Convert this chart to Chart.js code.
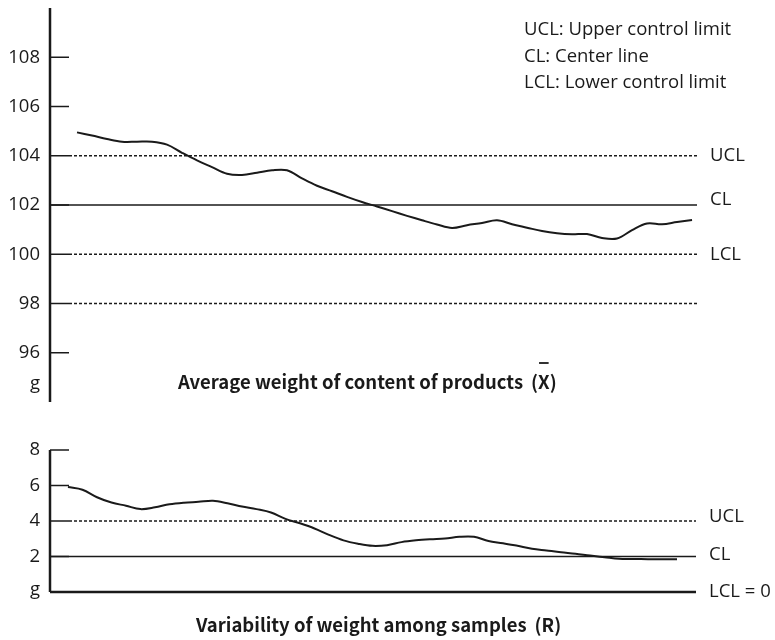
<!DOCTYPE html>
<html>
<head>
<meta charset="utf-8">
<script src="https://cdn.jsdelivr.net/npm/chart.js@4/dist/chart.umd.min.js"></script>
<style>
  body { margin: 0; background: #fff; width: 775px; height: 640px; position: relative; overflow: hidden; }
  canvas { position: absolute; left: 0; }
</style>
</head>
<body>
<canvas id="xbarChart" width="775" height="420" style="top:0"></canvas>
<canvas id="rChart" width="775" height="220" style="top:420px"></canvas>
<script>
// X-bar chart (average weight, g)
var xbarTicks = [108, 106, 104, 102, 100, 98, 96];
var xbarValues = [104.95, 104.82, 104.68, 104.57, 104.57, 104.57, 104.45, 104.12, 103.81, 103.54,
                  103.27, 103.22, 103.31, 103.41, 103.41, 103.08, 102.78, 102.56, 102.33, 102.12,
                  101.94, 101.75, 101.56, 101.38, 101.21, 101.07, 101.18, 101.27, 101.38, 101.22,
                  101.08, 100.94, 100.85, 100.81, 100.82, 100.66, 100.64, 100.98, 101.25, 101.22,
                  101.31, 101.39];
var xbarUCL = 104, xbarCL = 102, xbarLCL = 100;
var xbarExtraDotted = [98];
var xbarTitle = 'Average weight of content of products';

// R chart (variability, g)
var rTicks = [8, 6, 4, 2];
var rValues = [5.91, 5.76, 5.34, 5.04, 4.86, 4.67, 4.77, 4.94, 5.03, 5.08,
               5.14, 5.00, 4.82, 4.67, 4.48, 4.12, 3.87, 3.58, 3.22, 2.91,
               2.72, 2.60, 2.64, 2.81, 2.91, 2.97, 3.01, 3.11, 3.11, 2.87,
               2.75, 2.60, 2.44, 2.34, 2.24, 2.16, 2.05, 1.96, 1.87, 1.86,
               1.85, 1.85, 1.85];
var rUCL = 4, rCL = 2, rLCL = 0;
var rTitle = 'Variability of weight among samples';

var legendLines = ['UCL: Upper control limit', 'CL: Center line', 'LCL: Lower control limit'];

var INK = '#1a1a1a';
var LABEL_FONT = '18.5px "Open Sans"';
var TITLE_FONT = 'bold 18.5px "Noto Sans CJK JP"';

function hline(ctx, x1, x2, y, width, dash) {
    ctx.save();
    ctx.strokeStyle = INK;
    ctx.lineWidth = width;
    ctx.setLineDash(dash || []);
    ctx.beginPath();
    ctx.moveTo(x1, y);
    ctx.lineTo(x2, y);
    ctx.stroke();
    ctx.restore();
}

function text(ctx, str, x, y, font, align) {
    ctx.save();
    ctx.font = font;
    ctx.fillStyle = INK;
    ctx.textAlign = align || 'left';
    ctx.textBaseline = 'middle';
    ctx.fillText(str, x, y);
    ctx.restore();
}

function controlPlugin(o) {
    return {
        id: 'control',
        beforeDatasetsDraw: function (chart) {
            var ctx = chart.ctx, a = chart.chartArea, y = chart.scales.y;
            var left = a.left, right = a.right;
            // axis
            ctx.save();
            ctx.strokeStyle = INK;
            ctx.lineWidth = 2.5;
            ctx.beginPath();
            ctx.moveTo(left, y.getPixelForValue(y.max));
            ctx.lineTo(left, a.bottom);
            ctx.stroke();
            ctx.restore();
            // ticks + labels
            o.ticks.forEach(function (v) {
                var py = y.getPixelForValue(v);
                hline(ctx, left, left + 19, py, 1.5);
                text(ctx, String(v), left - 10, py, LABEL_FONT, 'right');
            });
            text(ctx, 'g', left - 10, y.getPixelForValue(o.gAt), LABEL_FONT, 'right');
            // control lines
            o.dotted.forEach(function (v) {
                hline(ctx, left + 19, right, y.getPixelForValue(v), 1.5, [3, 2]);
            });
            hline(ctx, left, right, y.getPixelForValue(o.cl), 1.5);
            if (o.lclSolid) hline(ctx, left, right, y.getPixelForValue(o.lcl), 2.5);
            o.rightLabels.forEach(function (l) {
                text(ctx, l[0], right + 13, y.getPixelForValue(l[1]) + l[2], LABEL_FONT);
            });
            // title
            text(ctx, o.title, o.titleX, o.titleY, TITLE_FONT);
            ctx.save();
            ctx.font = TITLE_FONT;
            var tw = ctx.measureText(o.title).width;
            ctx.restore();
            var sx = o.titleX + tw + 8;
            text(ctx, '(' + o.symbol + ')', sx, o.titleY, TITLE_FONT);
            if (o.overbar) {
                ctx.save();
                ctx.font = TITLE_FONT;
                var pw = ctx.measureText('(').width, xw = ctx.measureText(o.symbol).width;
                ctx.restore();
                hline(ctx, sx + pw + 1, sx + pw + xw - 1, o.titleY - 19, 1.8);
            }
            if (o.legend) {
                o.legend.forEach(function (s, i) {
                    text(ctx, s, 524, 30 + i * 26.5, LABEL_FONT);
                });
            }
        }
    };
}

function lineChart(id, values, xmin, xmax, ymin, ymax, padding, o) {
    return new Chart(document.getElementById(id), {
        type: 'line',
        data: {
            datasets: [{
                data: values.map(function (v, i) { return { x: i, y: v }; }),
                borderColor: INK,
                borderWidth: 2,
                pointRadius: 0,
                tension: 0.35,
                fill: false
            }]
        },
        options: {
            responsive: false,
            animation: false,
            layout: { padding: padding },
            plugins: { legend: { display: false }, tooltip: { enabled: false } },
            scales: {
                x: { type: 'linear', display: false, min: xmin, max: xmax },
                y: { type: 'linear', display: false, min: ymin, max: ymax }
            }
        },
        plugins: [controlPlugin(o)]
    });
}

lineChart('xbarChart', xbarValues, -1.8, 41.33, 94, 110,
    { left: 50, right: 78, top: 8, bottom: 18 },
    {
        ticks: xbarTicks, gAt: 94.75,
        dotted: [xbarUCL, xbarLCL].concat(xbarExtraDotted), cl: xbarCL, lcl: xbarLCL, lclSolid: false,
        rightLabels: [['UCL', xbarUCL, 0], ['CL', xbarCL, -5], ['LCL', xbarLCL, 0]],
        title: xbarTitle, symbol: 'X', overbar: true, titleX: 178, titleY: 382,
        legend: legendLines
    });

lineChart('rChart', rValues, -1.24, 43.31, 0, 8,
    { left: 50, right: 79, top: 30, bottom: 48 },
    {
        ticks: rTicks, gAt: 0.1,
        dotted: [rUCL], cl: rCL, lcl: rLCL, lclSolid: true,
        rightLabels: [['UCL', rUCL, -4], ['CL', rCL, -2], ['LCL = 0', rLCL, 0]],
        title: rTitle, symbol: 'R', overbar: false, titleX: 196, titleY: 205
    });
</script>
</body>
</html>
